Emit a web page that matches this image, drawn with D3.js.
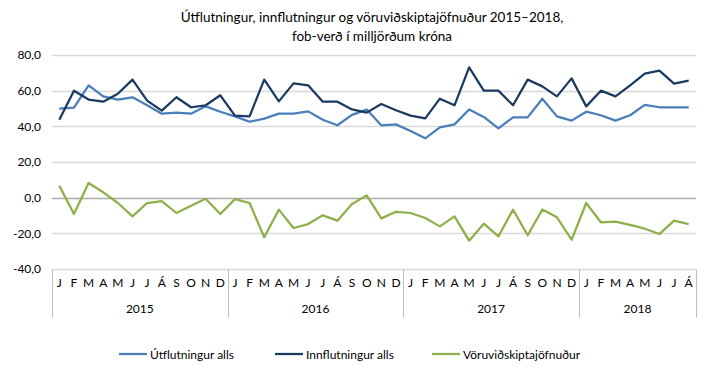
<!DOCTYPE html>
<html>
<head>
<meta charset="utf-8">
<script src="https://cdn.jsdelivr.net/npm/d3@7"></script>
<style>
  body { margin: 0; background: #fff; }
  svg { font-family: Lato, "Open Sans", sans-serif; }
</style>
</head>
<body>
<svg id="chart" width="713" height="378"></svg>
<script>
// months Jan 2015 - Aug 2018
const years = ["2015", "2016", "2017", "2018"];
const monthLetters = ["J", "F", "M", "A", "M", "J", "J", "Á", "S", "O", "N", "D"];
const monthsPerYear = [12, 12, 12, 8];

const exportsTotal = [
  49.9, 50.5, 63.0, 56.8, 55.0, 56.3, 51.8, 47.1, 47.7, 47.1, 51.2, 48.2,
  45.6, 42.6, 44.3, 47.1, 47.1, 48.4, 43.7, 40.6, 46.4, 49.4, 40.6, 41.1,
  37.4, 33.3, 39.4, 41.1, 49.4, 45.3, 38.9, 45.0, 45.0, 55.5, 45.6, 43.2,
  48.2, 46.2, 43.2, 46.2, 52.0, 50.7, 50.7, 50.7
];
const importsTotal = [
  43.7, 60.0, 55.0, 53.8, 58.3, 66.2, 54.4, 48.8, 56.3, 50.7, 51.8, 57.4,
  46.0, 45.6, 66.2, 54.0, 64.1, 63.0, 53.8, 53.8, 49.5, 47.7, 52.5, 49.0,
  46.0, 44.5, 55.5, 51.8, 73.1, 60.0, 60.0, 51.8, 66.2, 62.4, 56.8, 66.9,
  51.2, 60.0, 56.8, 63.0, 69.5, 71.2, 63.9, 65.6
];
const balance = [
  6.7, -9.2, 8.2, 3.0, -3.0, -10.5, -3.0, -1.9, -8.6, -4.5, -0.6, -9.2,
  -0.8, -3.0, -22.2, -6.7, -17.0, -14.8, -9.9, -12.9, -3.6, 1.3, -11.6, -7.9,
  -8.6, -11.4, -16.1, -10.5, -24.1, -14.6, -21.7, -6.7, -21.1, -6.7, -11.0, -23.6,
  -3.0, -13.8, -13.4, -15.3, -17.4, -20.4, -12.9, -14.8
];
const yTicks = [80, 60, 40, 20, 0, -20, -40];

const seriesNames = ["Útflutningur alls", "Innflutningur alls", "Vöruviðskiptajöfnuður"];
const colors = ["#4A7EBB", "#1B3A5F", "#8DB04A"];

// build month list from the arrays above
const months = [];
years.forEach((yr, yi) => {
  for (let m = 0; m < monthsPerYear[yi]; m++) {
    months.push({ key: yr + "-" + m, label: monthLetters[m], year: yr });
  }
});

const svg = d3.select("#chart");
const margin = { top: 55, right: 17, bottom: 108, left: 52 };
const plotW = 713 - margin.left - margin.right;
const plotH = 378 - margin.top - margin.bottom;

const x = d3.scaleBand()
  .domain(months.map((d) => d.key))
  .range([margin.left, margin.left + plotW]);

const y = d3.scaleLinear()
  .domain([-40, 80])
  .range([margin.top + plotH - 1, margin.top]);

// title
const title = svg.append("text")
  .attr("x", 372)
  .attr("text-anchor", "middle")
  .attr("font-size", 13.5)
  .attr("fill", "#000");
title.append("tspan").attr("x", 372).attr("y", 22)
  .text("Útflutningur, innflutningur og vöruviðskiptajöfnuður 2015–2018,");
title.append("tspan").attr("x", 372).attr("y", 41)
  .text("fob-verð í milljörðum króna");

// gridlines
svg.append("g")
  .selectAll("line")
  .data(yTicks)
  .join("line")
  .attr("x1", margin.left)
  .attr("x2", margin.left + plotW)
  .attr("y1", (d) => Math.round(y(d)) + 0.5)
  .attr("y2", (d) => Math.round(y(d)) + 0.5)
  .attr("stroke", (d) => (d === 0 ? "#ABABAB" : "#D9D9D9"))
  .attr("stroke-width", 1.3);

// y axis labels
const yAxis = d3.axisLeft(y)
  .tickValues(yTicks)
  .tickSize(0)
  .tickPadding(11)
  .tickFormat((d) => d3.format(".1f")(d).replace(".", ",").replace("−", "-"));

svg.append("g")
  .attr("transform", `translate(${margin.left},0)`)
  .call(yAxis)
  .call((g) => g.select(".domain").remove())
  .selectAll("text")
  .attr("font-size", 12)
  .attr("fill", "#000")
  .attr("font-family", "Lato, sans-serif");

// category axis: month letters
const axisTop = Math.round(y(-40)) + 0.5;
const xAxis = d3.axisBottom(x)
  .tickSize(0)
  .tickPadding(9)
  .tickFormat((k) => months.find((m) => m.key === k).label);

svg.append("g")
  .attr("transform", `translate(0,${axisTop})`)
  .call(xAxis)
  .call((g) => g.select(".domain").remove())
  .selectAll("text")
  .attr("font-size", 12)
  .attr("fill", "#000")
  .attr("font-family", "Lato, sans-serif");

// year groups
const groups = years.map((yr) => {
  const ms = months.filter((m) => m.year === yr);
  return {
    year: yr,
    x0: x(ms[0].key),
    x1: x(ms[ms.length - 1].key) + x.bandwidth(),
  };
});

const sepX = [groups[0].x0].concat(groups.map((g) => g.x1));
svg.append("g")
  .selectAll("line")
  .data(sepX)
  .join("line")
  .attr("x1", (d) => Math.round(d) + 0.5)
  .attr("x2", (d) => Math.round(d) + 0.5)
  .attr("y1", axisTop)
  .attr("y2", axisTop + 48)
  .attr("stroke", "#BFBFBF")
  .attr("stroke-width", 1);

svg.append("g")
  .selectAll("text")
  .data(groups)
  .join("text")
  .attr("x", (d) => (d.x0 + d.x1) / 2)
  .attr("y", axisTop + 43)
  .attr("text-anchor", "middle")
  .attr("font-size", 12)
  .attr("fill", "#000")
  .text((d) => d.year);

// lines
const seriesData = [exportsTotal, importsTotal, balance];
const line = d3.line()
  .x((d, i) => x(months[i].key) + x.bandwidth() / 2)
  .y((d) => y(d));

svg.append("g")
  .selectAll("path")
  .data(seriesData)
  .join("path")
  .attr("fill", "none")
  .attr("stroke", (d, i) => colors[i])
  .attr("stroke-width", 2.25)
  .attr("stroke-linejoin", "round")
  .attr("d", line);

// legend
const legendX = [119, 275, 432];
const legend = svg.append("g")
  .selectAll("g")
  .data(seriesNames)
  .join("g")
  .attr("transform", (d, i) => `translate(${legendX[i]},354)`);

legend.append("line")
  .attr("x1", 0)
  .attr("x2", 28)
  .attr("y1", 0)
  .attr("y2", 0)
  .attr("stroke", (d, i) => colors[i])
  .attr("stroke-width", 2.25);

legend.append("text")
  .attr("x", 31)
  .attr("y", 4.5)
  .attr("font-size", 12)
  .attr("fill", "#000")
  .text((d) => d);
</script>
</body>
</html>
